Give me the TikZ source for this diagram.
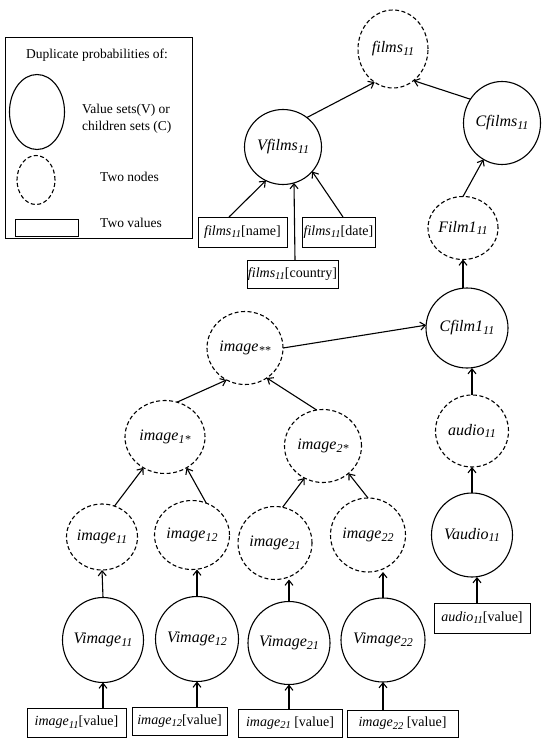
\documentclass[tikz,border=0pt]{standalone}
\usepackage{fontspec}
\setmainfont{Liberation Serif}
\usetikzlibrary{shapes.geometric,arrows.meta}
\newcommand\nsub[1]{\raisebox{-0.35ex}{\fontsize{12}{12}\selectfont\itshape #1}}
\newcommand\bsub[1]{\raisebox{-0.35ex}{\fontsize{10.5}{10.5}\selectfont\itshape #1}}
\newcommand\nlab[2]{\makebox[0pt]{\itshape #1\nsub{#2}}}
\newcommand\blab[3]{\textit{#1}\bsub{#2}#3}
\tikzset{
  solidnode/.style={ellipse, draw, line width=1.1pt, inner sep=0pt, outer sep=0pt, font=\fontsize{16}{16}\selectfont},
  dashnode/.style={solidnode, dash pattern=on 4pt off 2.5pt},
  valbox/.style={rectangle, draw, line width=1pt, inner sep=0pt, outer sep=0pt, font=\fontsize{14}{14}\selectfont},
  legtext/.style={inner sep=0pt, font=\fontsize{13.5}{17}\selectfont},
  arr/.style={line width=1.1pt, -{Straight Barb[length=5pt,width=8pt]}}
}
\begin{document}
\begin{tikzpicture}[x=1pt,y=-1pt]
\useasboundingbox (0,0) rectangle (542,738);
% legend
\node[draw, line width=1pt, minimum width=187, minimum height=200, inner sep=0pt] (legend) at (98.5,138) {};
\node[legtext] (legtitle) at (97,55) {Duplicate probabilities of:};
\node[solidnode, minimum width=55, minimum height=75] (legE1) at (37,112) {};
\node[legtext, anchor=west, align=left] (legT1) at (82,119) {Value sets(V) or\\children sets (C)};
\node[dashnode, minimum width=38, minimum height=49] (legE2) at (36,180) {};
\node[legtext, anchor=west] (legT2) at (100,177) {Two nodes};
\node[valbox, minimum width=63, minimum height=17] (legR) at (46.5,227.5) {};
\node[legtext, anchor=west] (legT3) at (100,223) {Two values};
% tree nodes
\node[dashnode, minimum width=70, minimum height=78] (films) at (393,49) {\nlab{films}{11}};
\node[solidnode, minimum width=77, minimum height=75] (Vfilms) at (283,147) {\nlab{Vfilms}{11}};
\node[solidnode, minimum width=77, minimum height=83] (Cfilms) at (502,123) {\nlab{Cfilms}{11}};
\node[dashnode, minimum width=70, minimum height=63] (Film1) at (463,228) {\nlab{Film1}{11}};
\node[solidnode, minimum width=82, minimum height=80] (Cfilm1) at (467,328) {\nlab{Cfilm1}{11}};
\node[dashnode, minimum width=73, minimum height=72] (audio) at (472,431) {\nlab{audio}{11}};
\node[solidnode, minimum width=81, minimum height=84] (Vaudio) at (472,535) {\nlab{Vaudio}{11}};
\node[dashnode, minimum width=76, minimum height=73] (imgss) at (245,348) {\nlab{image}{**}};
\node[dashnode, minimum width=80, minimum height=73] (img1s) at (165,437) {\nlab{image}{1*}};
\node[dashnode, minimum width=77, minimum height=73] (img2s) at (323,446) {\nlab{image}{2*}};
\node[dashnode, minimum width=71, minimum height=66] (img11) at (102,537) {\nlab{image}{11}};
\node[dashnode, minimum width=75, minimum height=69] (img12) at (192,535) {\nlab{image}{12}};
\node[dashnode, minimum width=74, minimum height=73] (img21) at (275,543) {\nlab{image}{21}};
\node[dashnode, minimum width=75, minimum height=74] (img22) at (368,535) {\nlab{image}{22}};
\node[solidnode, minimum width=81, minimum height=85] (Vimg11) at (103,640) {\nlab{Vimage}{11}};
\node[solidnode, minimum width=83, minimum height=85] (Vimg12) at (197,639) {\nlab{Vimage}{12}};
\node[solidnode, minimum width=82, minimum height=83] (Vimg21) at (289,643) {\nlab{Vimage}{21}};
\node[solidnode, minimum width=84, minimum height=84] (Vimg22) at (383,640) {\nlab{Vimage}{22}};
% value boxes
\node[valbox, minimum width=89, minimum height=30] (fname) at (242.5,232) {\blab{films}{11}{[name]}};
\node[valbox, minimum width=73, minimum height=30] (fdate) at (338.5,232) {\blab{films}{11}{[date]}};
\node[valbox, minimum width=91, minimum height=28] (fcountry) at (292.5,274) {\blab{films}{11}{[country]}};
\node[valbox, minimum width=96, minimum height=30] (audioval) at (482,618) {\blab{audio}{11}{[value]}};
\node[valbox, minimum width=99, minimum height=29] (v11) at (76.5,722.5) {\blab{image}{11}{[value]}};
\node[valbox, minimum width=95, minimum height=28] (v12) at (179.5,721) {\blab{image}{12}{[value]}};
\node[valbox, minimum width=104, minimum height=28] (v21) at (290,723) {\blab{image}{21}{ [value]}};
\node[valbox, minimum width=111, minimum height=27] (v22) at (402.5,723.5) {\blab{image}{22}{ [value]}};
% connectors
\draw[arr] ([xshift=-13.5]fname.north) -- (Vfilms.243);
\draw[arr] ([xshift=2.5]fcountry.north) -- (Vfilms.287);
\draw[arr] ([xshift=4.5]fdate.north) -- (Vfilms.320);
\draw[arr] (Vfilms.51) -- (films.241);
\draw[arr] (Cfilms.143) -- (films.303);
\draw[arr] (Film1.north) -- (Cfilms.243);
\draw[arr] (Cfilm1.north -| Film1.south) -- (Film1.south);
\draw[arr] (audio.north) -- (audio.north |- Cfilm1.south);
\draw[arr] (Vaudio.north) -- (audio.south);
\draw[arr] ([xshift=-5]audioval.north) -- ([xshift=-5]audioval.north |- Vaudio.south);
\draw[arr] (imgss.east) -- (Cfilm1.176);
\draw[arr] (img1s.71) -- (imgss.240);
\draw[arr] (img2s.100) -- (imgss.306);
\draw[arr] (img11.68) -- (img1s.235);
\draw[arr] (img12.66) -- (img1s.305);
\draw[arr] (img21.78) -- (img2s.240);
\draw[arr] (img22.north) -- (img2s.313);
\draw[arr] (Vimg11.north) -- (img11.south);
\draw[arr] (Vimg12.north) -- (Vimg12.north |- img12.south);
\draw[arr] (Vimg21.north) -- (Vimg21.north |- img21.south);
\draw[arr] (Vimg22.north) -- (Vimg22.north |- img22.south);
\draw[arr] (Vimg11.south |- v11.north) -- (Vimg11.south);
\draw[arr] (Vimg12.south |- v12.north) -- (Vimg12.south);
\draw[arr] (Vimg21.south |- v21.north) -- (Vimg21.south);
\draw[arr] (Vimg22.south |- v22.north) -- (Vimg22.south);
\end{tikzpicture}
\end{document}
